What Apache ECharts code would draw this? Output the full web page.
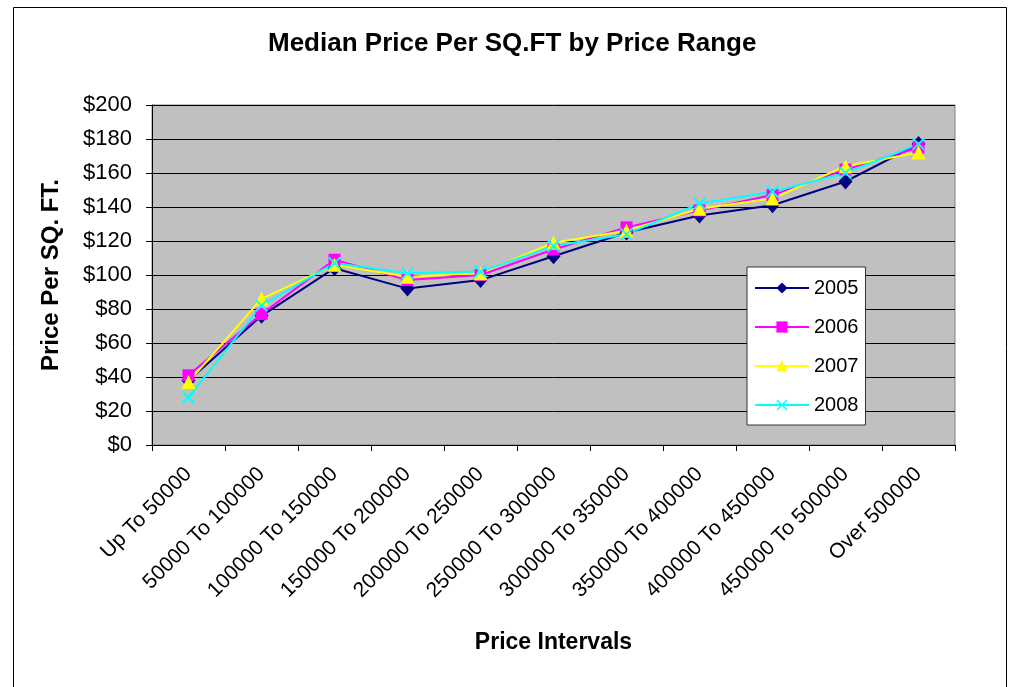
<!DOCTYPE html>
<html>
<head>
<meta charset="utf-8">
<script src="https://cdn.jsdelivr.net/npm/echarts@6/dist/echarts.min.js"></script>
<style>
  html, body { margin: 0; padding: 0; background: #fff; }
  #chart { width: 1013px; height: 687px; }
</style>
</head>
<body>
<div id="chart"></div>
<script>
// price ranges on the x axis
const categories = [
  'Up To 50000', '50000 To 100000', '100000 To 150000', '150000 To 200000',
  '200000 To 250000', '250000 To 300000', '300000 To 350000', '350000 To 400000',
  '400000 To 450000', '450000 To 500000', 'Over 500000'
]
// median price per sq.ft
const years = ['2005', '2006', '2007', '2008']
const v2005 = [38, 76, 104, 92, 97, 111, 125, 135, 141, 155, 177]
const v2006 = [41, 77, 109, 97, 100, 115, 128, 138, 147, 162, 175]
const v2007 = [37, 86, 106, 99, 101, 119, 126, 139, 145, 164, 172]
const v2008 = [28, 82, 107, 101, 102, 117, 124, 142, 149, 160, 177]

const font = 'Liberation Sans, Arial, sans-serif'
const cross = 'path://M0,1 L1,0 L5,4 L9,0 L10,1 L6,5 L10,9 L9,10 L5,6 L1,10 L0,9 L4,5 Z'

const chart = echarts.init(document.getElementById('chart'))

function line(name, data, color, symbol, size) {
  return {
    name: name,
    type: 'line',
    data: data,
    symbol: symbol,
    symbolSize: size,
    showAllSymbol: true,
    lineStyle: { color: color, width: 2 },
    itemStyle: { color: color, borderWidth: 0 },
    emphasis: { disabled: true },
    animation: false
  }
}

chart.setOption({
  backgroundColor: '#fff',
  textStyle: { fontFamily: font },
  /* outer frame of the chart */
  graphic: [{
    type: 'rect',
    silent: true,
    z: -10,
    shape: { x: 13.5, y: 7.5, width: 993, height: 700 },
    style: { fill: 'none', stroke: '#000', lineWidth: 1 }
  }],
  title: {
    text: 'Median Price Per SQ.FT by Price Range',
    left: 268,
    top: 31,
    padding: 0,
    textStyle: { fontFamily: font, fontSize: 26, fontWeight: 'bold', color: '#000' }
  },
  legend: {
    orient: 'vertical',
    left: 747,
    top: 267,
    padding: [11, 7, 10, 7],
    itemWidth: 54,
    itemHeight: 14,
    itemGap: 19,
    backgroundColor: '#fff',
    borderColor: '#333',
    borderWidth: 1,
    textStyle: { fontFamily: font, fontSize: 20, color: '#000' },
    data: years
  },
  grid: {
    left: 152,
    right: 58,
    top: 105,
    bottom: 242,
    show: true,
    backgroundColor: '#c0c0c0',
    borderColor: '#808080',
    borderWidth: 1
  },
  xAxis: {
    type: 'category',
    data: categories,
    boundaryGap: true,
    name: 'Price Intervals',
    nameLocation: 'middle',
    nameGap: 186,
    nameTextStyle: { fontFamily: font, fontSize: 23, fontWeight: 'bold', color: '#000' },
    axisLine: { lineStyle: { color: '#000', width: 1 } },
    axisTick: { show: true, length: 6, lineStyle: { color: '#000' } },
    axisLabel: {
      interval: 0,
      rotate: 45,
      margin: 26,
      fontFamily: font,
      fontSize: 21,
      color: '#000'
    },
    splitLine: { show: false }
  },
  yAxis: {
    type: 'value',
    min: 0,
    max: 200,
    interval: 20,
    name: 'Price Per SQ. FT.',
    nameLocation: 'middle',
    nameGap: 89,
    nameTextStyle: { fontFamily: font, fontSize: 24, fontWeight: 'bold', color: '#000' },
    axisLine: { show: true, lineStyle: { color: '#000', width: 1 } },
    axisTick: { show: true, length: 6, lineStyle: { color: '#000' } },
    axisLabel: {
      margin: 20,
      fontFamily: font,
      fontSize: 22,
      color: '#000',
      formatter: v => '$' + v
    },
    splitLine: { show: true, lineStyle: { color: '#000', width: 1 } }
  },
  series: [
    line('2005', v2005, '#000080', 'diamond', [14, 16]),
    line('2006', v2006, '#ff00ff', 'rect', 12),
    line('2007', v2007, '#ffff00', 'triangle', 14),
    line('2008', v2008, '#00ffff', cross, 13)
  ]
})
</script>
</body>
</html>
